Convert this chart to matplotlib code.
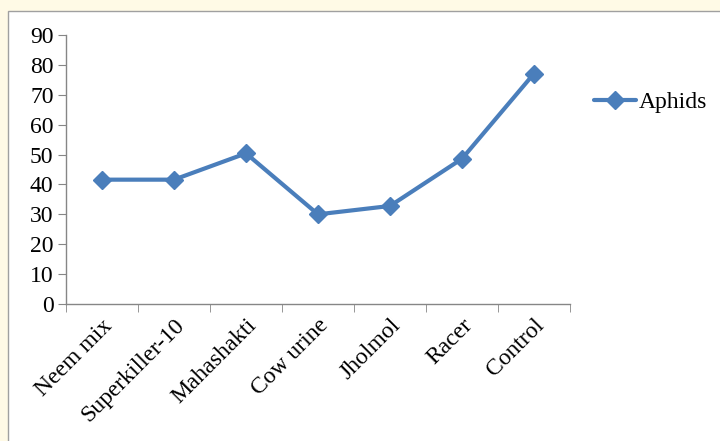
import numpy as np
import matplotlib
matplotlib.use("Agg")
import matplotlib.pyplot as plt
from matplotlib.patches import Rectangle

treatments = ["Neem mix", "Superkiller-10", "Mahashakti", "Cow urine",
              "Jholmol", "Racer", "Control"]
aphids = [41.6, 41.6, 50.4, 30.0, 32.8, 48.6, 77.1]
y_ticks = list(range(0, 91, 10))

plt.rcParams["font.family"] = ["Liberation Serif", "DejaVu Serif"]

fig = plt.figure(figsize=(7.2, 4.41), dpi=100)
fig.patch.set_facecolor("#FFFAE6")

# white chart panel with grey left/top border
panel = Rectangle((8 / 720, -0.1), 1.2, 1.1 - 11 / 441,
                  transform=fig.transFigure, facecolor="white",
                  edgecolor="#A0A0A0", linewidth=1.0, zorder=-5)
fig.patches.append(panel)

ax = fig.add_axes([66 / 720, 1 - 304 / 441, 504 / 720, 269 / 441])
ax.set_facecolor("white")
ax.set_zorder(1)

x = np.arange(len(treatments))
ax.plot(x, aphids, color="#4A7EBB", linewidth=3, marker="D",
        markersize=9, label="Aphids", solid_capstyle="round")

ax.set_xlim(-0.5, len(treatments) - 0.5)
ax.set_ylim(0, 90)
ax.set_yticks(y_ticks)
ax.set_xticks(x)
ax.set_xticks(np.arange(-0.5, len(treatments), 1.0), minor=True)
ax.set_xticklabels(treatments, rotation=45, ha="right",
                   rotation_mode="anchor", fontsize=17)
ax.tick_params(axis="x", which="major", length=0, pad=8)
ax.tick_params(axis="x", which="minor", length=6, color="#868686",
               direction="out")
ax.tick_params(axis="y", length=6, color="#868686", labelsize=17, pad=3)

for side in ["top", "right"]:
    ax.spines[side].set_visible(False)
for side in ["left", "bottom"]:
    ax.spines[side].set_color("#868686")
    ax.spines[side].set_linewidth(1.0)

leg = ax.legend(loc="center left", bbox_to_anchor=(1.028, 0.75),
                frameon=False, fontsize=17, handlelength=1.8,
                handletextpad=0.1, borderaxespad=0)

fig.savefig("out.png", dpi=100, facecolor=fig.get_facecolor())
